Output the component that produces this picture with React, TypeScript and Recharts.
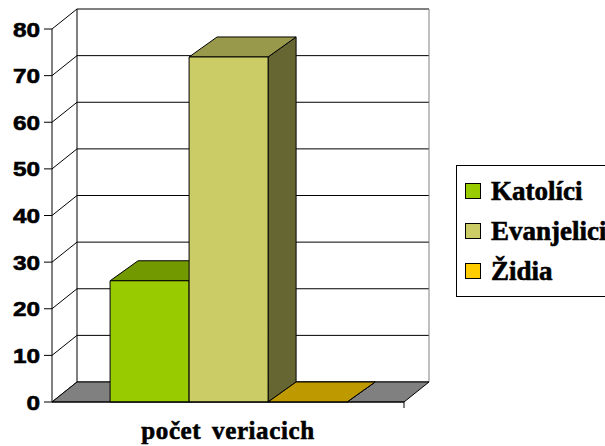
import { BarChart, Bar, XAxis, YAxis, CartesianGrid, ReferenceArea, Legend } from 'recharts';

const categories = ['počet veriacich'];
const katolici = [26];
const evanjelici = [74];
const zidia = [0];
const yTicks = [0, 10, 20, 30, 40, 50, 60, 70, 80];

const SERIES = [
  { key: 'katolici', name: 'Katolíci', values: katolici, front: '#99CC00', top: '#739900', side: '#4D6600' },
  { key: 'evanjelici', name: 'Evanjelici', values: evanjelici, front: '#CCCC66', top: '#99994C', side: '#666633' },
  { key: 'zidia', name: 'Židia', values: zidia, front: '#FFCC00', top: '#BF9900', side: '#806600' },
];

// depth of the back wall and of the columns
const WX = 25;
const WY = -20;
const BX = 28;
const BY = -20;

const data = categories.map((name, i) => {
  const row: Record<string, string | number> = { name };
  SERIES.forEach((s) => {
    row[s.key] = s.values[i];
  });
  return row;
});

const makeColumn = (front: string, top: string, side: string) => (props: any) => {
  const { x, y, width: w, height: h } = props;
  if (x == null || y == null) return <g />;
  const hh = Math.max(0, h || 0);
  return (
    <g stroke="#000" strokeWidth={1} strokeLinejoin="round">
      <polygon
        points={`${x + w},${y} ${x + w + BX},${y + BY} ${x + w + BX},${y + hh + BY} ${x + w},${y + hh}`}
        fill={side}
      />
      <polygon points={`${x},${y} ${x + BX},${y + BY} ${x + w + BX},${y + BY} ${x + w},${y}`} fill={top} />
      {hh > 0 && <rect x={x} y={y} width={w} height={hh} fill={front} />}
    </g>
  );
};

const gridLine = (props: any) => {
  const { x1, y1, x2, y2 } = props;
  return (
    <g key={props.key ?? `g-${y1}`} stroke="#000" strokeWidth={1}>
      <line x1={x1 + WX} y1={y1 + WY} x2={x2 + WX} y2={y2 + WY} />
      <line x1={x1} y1={y1} x2={x1 + WX} y2={y1 + WY} />
    </g>
  );
};

const Walls = (props: any) => {
  const { x, y, width: w, height: h } = props;
  if (x == null) return <g />;
  const b = y + h;
  return (
    <g>
      <line x1={x + WX} y1={y + WY} x2={x + WX} y2={b + WY} stroke="#000" />
      <line x1={x + w + WX} y1={y + WY} x2={x + w + WX} y2={b + WY} stroke="#808080" />
      <polygon
        points={`${x},${b} ${x + WX},${b + WY} ${x + w + WX},${b + WY} ${x + w},${b}`}
        fill="#808080"
        stroke="#000"
      />
      <line x1={x + w} y1={b} x2={x + w} y2={b + 6} stroke="#000" />
    </g>
  );
};

const SERIF = '"Liberation Serif", "Times New Roman", serif';

// Excel's value labels come out a bit wide, so stretch them horizontally
const YTick = (props: any) => {
  const { x, y, payload } = props;
  return (
    <text
      transform={`translate(${x},${y}) scale(1.16,1)`}
      textAnchor="end"
      dy="0.36em"
      fill="#000"
      stroke="#000"
      strokeWidth={0.6}
      fontFamily='"Liberation Sans", Arial, sans-serif'
      fontWeight={700}
      fontSize={21}
    >
      {payload.value}
    </text>
  );
};

const LegendBox = () => (
  <div
    style={{
      width: 170,
      height: 132,
      boxSizing: 'border-box',
      border: '1px solid #000',
      background: '#fff',
      padding: '5px 0 5px 8px',
    }}
  >
    {SERIES.map((s) => (
      <div key={s.key} style={{ display: 'flex', alignItems: 'center', height: 40 }}>
        <span
          style={{
            width: 16,
            height: 16,
            boxSizing: 'border-box',
            border: '1px solid #000',
            background: s.front,
            marginRight: 10,
            flexShrink: 0,
          }}
        />
        <span
          style={{
            fontFamily: SERIF,
            fontWeight: 700,
            fontSize: 27,
            lineHeight: '40px',
            color: '#000',
            whiteSpace: 'nowrap',
            WebkitTextStroke: '0.6px #000',
          }}
        >
          {s.name}
        </span>
      </div>
    ))}
  </div>
);

export default function App() {
  return (
    <div style={{ width: 605, height: 446, overflow: 'hidden', position: 'relative', background: '#fff' }}>
      <style>{'body{margin:0}'}</style>
      <BarChart
        width={605}
        height={446}
        data={data}
        margin={{ top: 29, right: 201, bottom: 0, left: 0 }}
        barCategoryGap="16.5%"
        barGap={0}
      >
        <CartesianGrid vertical={false} horizontal={gridLine} />
        <ReferenceArea y1={0} y2={80} shape={<Walls />} ifOverflow="visible" />
        <XAxis
          dataKey="name"
          height={44}
          axisLine={{ stroke: '#000' }}
          tickLine={false}
          tickMargin={13}
          tick={{
            fill: '#000',
            stroke: '#000',
            strokeWidth: 0.6,
            fontFamily: SERIF,
            fontWeight: 700,
            fontSize: 25,
            letterSpacing: 0.6,
            wordSpacing: 4,
          }}
        />
        <YAxis
          width={52}
          domain={[0, 80]}
          ticks={yTicks}
          interval={0}
          axisLine={{ stroke: '#000' }}
          tickLine={{ stroke: '#000' }}
          tickSize={8}
          tickMargin={4}
          tick={<YTick />}
        />
        {SERIES.map((s) => (
          <Bar
            key={s.key}
            dataKey={s.key}
            name={s.name}
            fill={s.front}
            isAnimationActive={false}
            shape={makeColumn(s.front, s.top, s.side)}
          />
        ))}
        <Legend
          layout="vertical"
          align="center"
          verticalAlign="middle"
          wrapperStyle={{ left: 456, top: 165, width: 170 }}
          content={() => <LegendBox />}
        />
      </BarChart>
    </div>
  );
}
